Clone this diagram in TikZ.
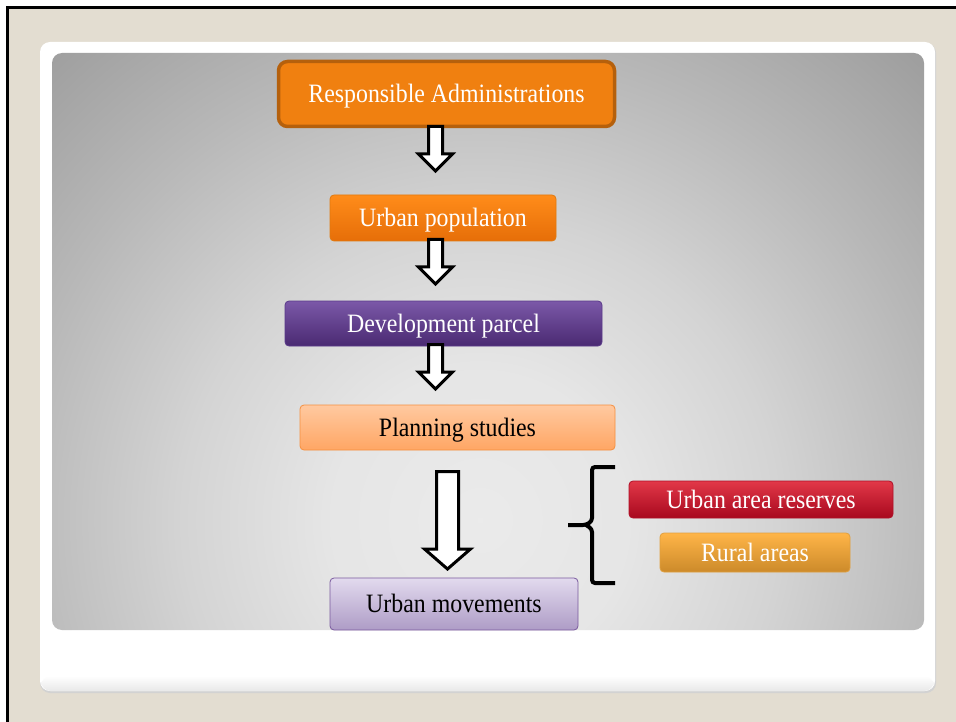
\documentclass[tikz,border=0pt]{standalone}
\usepackage{fontspec}
\setmainfont{Liberation Serif}[FakeStretch=0.9]
\usetikzlibrary{calc}
\pgfdeclareradialshading{panelshade}{\pgfpoint{0bp}{0bp}}{rgb(0bp)=(0.92,0.92,0.92); rgb(5.9bp)=(0.90,0.90,0.90); rgb(11.7bp)=(0.83,0.83,0.83); rgb(18.4bp)=(0.72,0.72,0.72); rgb(25bp)=(0.62,0.62,0.62); rgb(50bp)=(0.62,0.62,0.62)}
\definecolor{beige}{HTML}{E3DDD1}
\definecolor{respfill}{HTML}{F08010}
\definecolor{respdraw}{HTML}{B5600C}
\newcommand\fatarrow[5]{\draw[fatarr] ($(#1)+(-#3,0)$) -- ($(#1)+(#3,0)$) -- ($(#2)+(#3,-#5)$) -- ($(#2)+(#4,-#5)$) -- (#2) -- ($(#2)+(-#4,-#5)$) -- ($(#2)+(-#3,-#5)$) -- cycle;}
\begin{document}
\begin{tikzpicture}[x=1pt,y=-1pt,
  every node/.style={font=\fontsize{26.5}{30}\selectfont},
  box/.style={rectangle, rounded corners=4pt, line width=0.8pt, inner sep=0pt, text height=20pt, text depth=3pt},
  fatarr/.style={draw=black, fill=white, line width=3pt, miter limit=10},
  bracestyle/.style={draw=black, line width=4pt, rounded corners=3pt}]
\useasboundingbox (0,0) rectangle (956,722);
\clip (0,0) rectangle (956,722);
\fill[white] (0,0) rectangle (956,722);
\draw[fill=beige, line width=3pt] (7.5,7.5) rectangle (980,740);
% white panel
\fill[gray!35, rounded corners=10pt] (40,43) rectangle (936,693);
\fill[white, rounded corners=10pt] (40,42) rectangle (935,691);
\shade[top color=white, bottom color=gray!18, rounded corners=10pt] (41,676) rectangle (934,691);
% gray panel
\begin{scope}
\clip[rounded corners=10pt] (52,53) rectangle (924,630);
\shade[shading=panelshade] (-160,-120) rectangle (1120,1160);
\end{scope}

% nodes
\node[box, rounded corners=9pt, fill=respfill, draw=respdraw, line width=3.5pt, text=white,
      minimum width=336pt, minimum height=65pt] (resp) at (446.5,94) {Responsible Administrations};
\node[box, top color={rgb,255:red,255;green,140;blue,26}, bottom color={rgb,255:red,230;green,110;blue,8},
      draw={rgb,255:red,224;green,122;blue,16}, text=white,
      minimum width=226pt, minimum height=46pt] (pop) at (443,218) {Urban population};
\node[box, top color={rgb,255:red,123;green,88;blue,168}, bottom color={rgb,255:red,74;green,42;blue,114},
      draw={rgb,255:red,90;green,58;blue,138}, text=white,
      minimum width=317pt, minimum height=45pt] (dev) at (443.5,323.5) {Development parcel};
\node[box, top color={rgb,255:red,255;green,201;blue,160}, bottom color={rgb,255:red,255;green,166;blue,100},
      draw={rgb,255:red,245;green,144;blue,64}, text=black,
      minimum width=315pt, minimum height=45pt] (plan) at (457.5,427.5) {Planning studies};
\node[box, top color={rgb,255:red,226;green,218;blue,238}, bottom color={rgb,255:red,174;green,156;blue,198},
      draw={rgb,255:red,122;green,90;blue,158}, text=black,
      minimum width=248pt, minimum height=52pt] (mov) at (454,604) {Urban movements};
\node[box, top color={rgb,255:red,226;green,56;blue,72}, bottom color={rgb,255:red,168;green,8;blue,30},
      draw={rgb,255:red,176;green,16;blue,40}, text=white,
      minimum width=264pt, minimum height=37pt] (uar) at (761,499.5) {Urban area reserves};
\node[box, top color={rgb,255:red,255;green,181;blue,72}, bottom color={rgb,255:red,204;green,138;blue,42},
      draw={rgb,255:red,224;green,160;blue,64}, text=white,
      minimum width=190pt, minimum height=39pt] (rural) at (755,552.5) {Rural areas};

% arrow end points
\coordinate (t1) at (435.5,126.5); \coordinate (h1) at (435.5,171);
\coordinate (t2) at (435.5,239.5); \coordinate (h2) at (435.5,284);
\coordinate (t3) at (435.5,344.5); \coordinate (h3) at (435.5,389);
\coordinate (t4) at (447.5,471.5); \coordinate (h4) at (447.5,569);
\fatarrow{t1}{h1}{7}{17}{17}
\fatarrow{t2}{h2}{7}{17}{17}
\fatarrow{t3}{h3}{7}{17}{17}
\fatarrow{t4}{h4}{11}{23}{20}

% brace
\draw[bracestyle] (615,467) -- (592,467) -- (592,521) -- (586,525) -- (568,525);
\draw[bracestyle] (586,525) -- (592,529) -- (592,583) -- (615,583);
\end{tikzpicture}
\end{document}
